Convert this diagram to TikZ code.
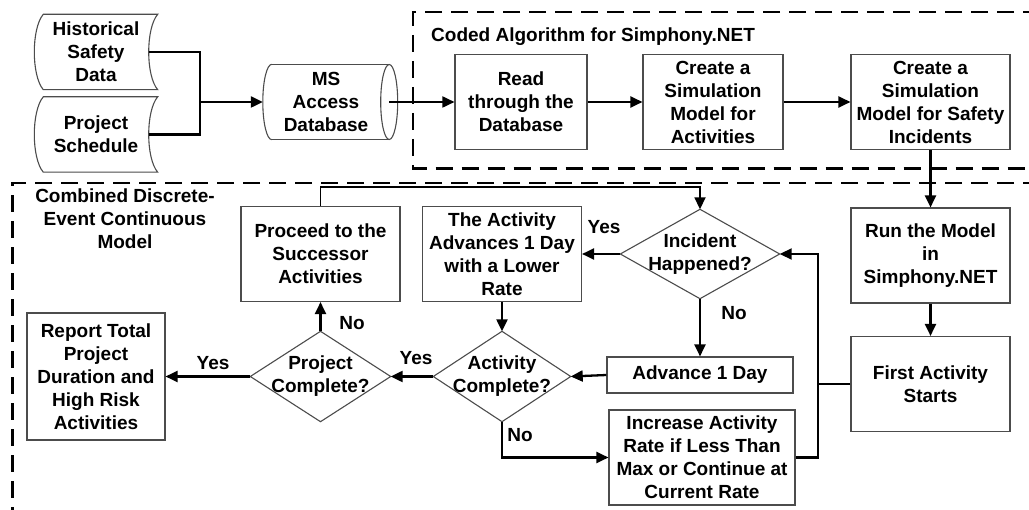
\documentclass[tikz,border=0pt]{standalone}
\usepackage{fontspec}
\setmainfont{Liberation Sans}
\usetikzlibrary{arrows.meta,positioning}

\begin{document}
\begin{tikzpicture}[
  x=1pt, y=-1pt,
  every node/.style={font=\bfseries\fontsize{19}{23}\selectfont, align=center, inner sep=0pt},
  box/.style={rectangle, draw=black!70, line width=1.1pt, minimum width=159pt, minimum height=95pt},
  decision/.style={rectangle, minimum width=159pt, minimum height=89pt},
  stored/.style={rectangle, minimum width=123pt, minimum height=75pt},
  outline/.style={draw=black!70, line width=1.1pt},
  flow/.style={line width=2.3pt, -{Triangle[length=12pt,width=11pt]}},
  link/.style={line width=2.3pt},
  region/.style={line width=2.8pt, dash pattern=on 17pt off 9pt}
]
  \fill[white] (0,0) rectangle (1029,510);
  \useasboundingbox (0,0) rectangle (1029,510);

  % dashed groups
  \draw[region] (1040,12) -- (413,12) -- (413,168.5) -- (1040,168.5);
  \draw[region] (1040,183) -- (12.5,183) -- (12.5,520);
  \node[anchor=west] (codedtitle) at (431,37) {Coded Algorithm for Simphony.NET};
  \node (combtitle) at (125,218.5) {Combined Discrete-\\Event Continuous\\Model};

  % inputs
  \node[stored] (hist) at (96,52) {Historical\\Safety\\Data};
  \node[stored] (sched) at (96,134.5) {Project\\Schedule};
  \node[stored, minimum width=126pt] (db) at (326,102) {MS\\Access\\Database};

  \foreach \n in {hist,sched}
    \draw[outline] ([xshift=9pt]\n.north west) -- (\n.north east)
      .. controls +(-12,14) and +(-12,-14) .. (\n.south east)
      -- ([xshift=9pt]\n.south west)
      .. controls +(-12,-14) and +(-12,14) .. ([xshift=9pt]\n.north west) -- cycle;

  \draw[outline] ([xshift=9pt]db.north west) -- (db.north east);
  \draw[outline] ([xshift=9pt]db.south west) -- (db.south east);
  \draw[outline] ([xshift=9pt]db.north west) .. controls +(-5,0) and +(0,-20.7) .. (db.west)
    .. controls +(0,20.7) and +(-5,0) .. ([xshift=9pt]db.south west);
  \draw[outline] (db.east) ellipse [x radius=8.5pt, y radius=37.5pt];

  % coded algorithm
  \node[box, minimum width=132pt] (read) at (521,102) {Read\\through the\\Database};
  \node[box, minimum width=140pt] (simact) at (713,102) {Create a\\Simulation\\Model for\\Activities};
  \node[box] (simsafe) at (930.5,102) {Create a\\Simulation\\Model for Safety\\Incidents};

  % combined model
  \node[box] (run) at (930.5,255.5) {Run the Model\\in\\Simphony.NET};
  \node[box] (first) at (930.5,384) {First Activity\\Starts};
  \node[decision] (incident) at (700,254) {Incident\\Happened?};
  \node[box] (lower) at (502,254) {The Activity\\Advances 1 Day\\with a Lower\\Rate};
  \node[box] (successor) at (320.5,254) {Proceed to the\\Successor\\Activities};
  \node[box, minimum width=186pt, minimum height=36pt] (day) at (700,375) {Advance 1 Day};
  \node[decision, minimum width=137pt, minimum height=90pt] (actdone) at (502,376.5) {Activity\\Complete?};
  \node[decision, minimum width=140pt, minimum height=90pt] (projdone) at (320.5,376.5) {Project\\Complete?};
  \node[box, minimum width=138pt, minimum height=127pt] (report) at (96,376.5) {Report Total\\Project\\Duration and\\High Risk\\Activities};
  \node[box, minimum width=186pt] (raise) at (702,457.5) {Increase Activity\\Rate if Less Than\\Max or Continue at\\Current Rate};

  \foreach \n in {incident,actdone,projdone}
    \draw[outline] (\n.north) -- (\n.east) -- (\n.south) -- (\n.west) -- cycle;

  % connectors
  \coordinate (merge) at (200,102);
  \draw[link] ([xshift=-9pt]hist.east) -| (merge);
  \draw[link] ([xshift=-9pt]sched.east) -| (merge);
  \draw[flow] (merge) -- (db.west);
  \draw[flow, line width=1.8pt] (db.east) -- (read.west);
  \draw[flow] (read) -- (simact);
  \draw[flow] (simact) -- (simsafe);
  \draw[flow] (simsafe) -- (run);
  \draw[flow] (run) -- (first);

  \coordinate (rejoin) at (818,384);
  \draw[flow, line width=1.8pt] (first.west) -- (rejoin) |- (incident.east);
  \draw[link] (raise.east) -| (rejoin);
  \draw[flow] (incident.west) -- (lower.east);
  \draw[flow] (incident.south) -- (day.north);
  \draw[flow] (day.west) -- (actdone.east);
  \draw[flow] (lower.south) -- (actdone.north);
  \draw[flow] (actdone.south) |- (raise.west);
  \draw[flow] (actdone.west) -- (projdone.east);
  \draw[flow] (projdone.west) -- (report.east);
  \draw[flow] (projdone.north) -- (successor.south);
  \draw[flow, line width=1.8pt] (successor.north) -- ++(0,-19) -| (incident.north);

  % branch labels
  \node (yesinc) at (604,227) {Yes};
  \node (noinc) at (734,313) {No};
  \node (yesact) at (416,358) {Yes};
  \node (noact) at (520,435) {No};
  \node (yesprj) at (213,363) {Yes};
  \node (noprj) at (352,323) {No};
\end{tikzpicture}
\end{document}
